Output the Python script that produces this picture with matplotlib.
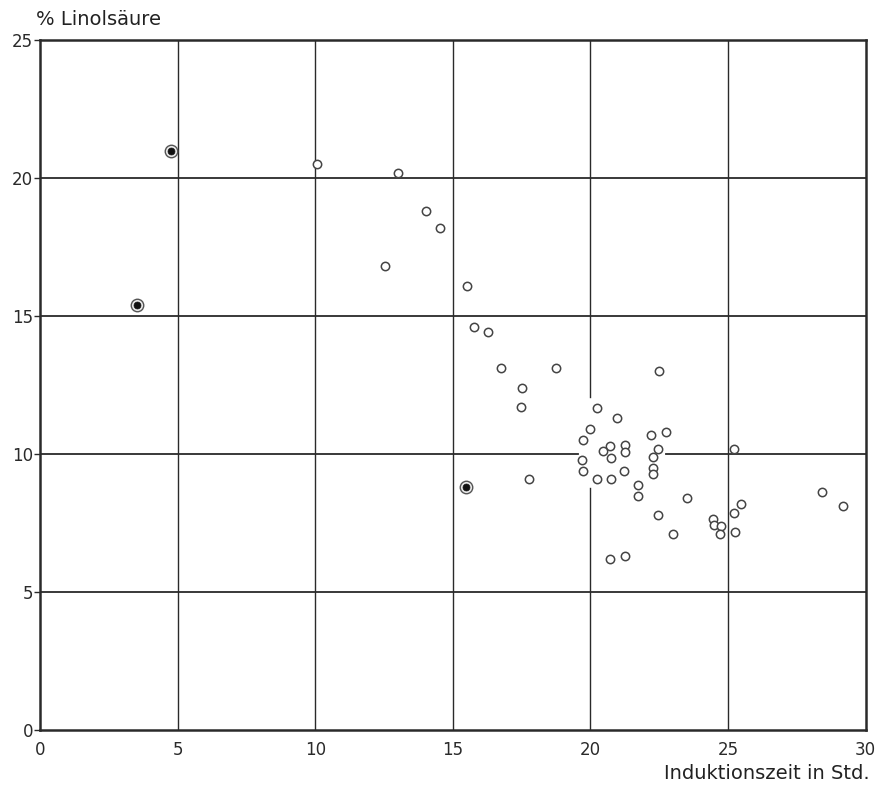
import matplotlib
matplotlib.use("Agg")
import matplotlib.pyplot as plt
import numpy as np

plt.rcParams['font.family'] = ['Liberation Sans Narrow', 'DejaVu Sans']

# open circles: Induktionszeit (h) vs. % Linolsaeure
open_x = [10.06, 13.0, 14.01, 14.52, 12.52,
          15.51, 15.76, 16.27, 16.76, 18.74, 22.50, 17.50, 17.49,
          20.25, 20.98, 19.98, 22.21, 22.73, 19.72, 20.72, 21.24,
          20.45, 21.24, 20.74, 22.46, 25.22, 22.26, 19.70, 19.71,
          21.22, 22.26, 22.27, 20.22, 20.74, 17.75, 21.73, 21.74,
          23.49, 22.46, 28.43, 29.17, 25.48, 25.23, 24.46, 24.47,
          24.75, 24.72, 25.26, 22.98, 20.72, 21.26]
open_y = [20.50, 20.18, 18.79, 18.20, 16.81,
          16.10, 14.59, 14.41, 13.10, 13.12, 13.01, 12.40, 11.70,
          11.68, 11.30, 10.91, 10.69, 10.80, 10.50, 10.29, 10.31,
          10.10, 10.08, 9.87, 10.18, 10.19, 9.89, 9.78, 9.38,
          9.39, 9.49, 9.28, 9.08, 9.11, 9.09, 8.88, 8.49,
          8.41, 7.79, 8.61, 8.12, 8.19, 7.86, 7.66, 7.44,
          7.39, 7.09, 7.19, 7.10, 6.20, 6.29]

# filled (ringed) points
filled_x = [4.77, 3.53, 15.48]
filled_y = [20.99, 15.39, 8.82]

x_ticks = [0, 5, 10, 15, 20, 25, 30]
y_ticks = [0, 5, 10, 15, 20, 25]

fig = plt.figure(figsize=(8.78, 7.85), dpi=100)
ax = fig.add_axes([0.0456, 0.070, 0.9404, 0.879])
ax.set_xlim(0, 30)
ax.set_ylim(0, 25)

line_col = '#2a2a2a'

# grid, with the gaps around the point cluster as in the original
for gx in x_ticks[1:-1]:
    if gx == 20:
        ax.plot([gx, gx], [0, 8.77], color=line_col, lw=1.0, zorder=1)
        ax.plot([gx, gx], [12.07, 25], color=line_col, lw=1.0, zorder=1)
    else:
        ax.axvline(gx, color=line_col, lw=1.0, zorder=1)
for gy in y_ticks[1:-1]:
    if gy == 10:
        ax.plot([0, 19.55], [gy, gy], color=line_col, lw=1.3, zorder=1)
        ax.plot([22.73, 30], [gy, gy], color=line_col, lw=1.3, zorder=1)
    else:
        ax.axhline(gy, color=line_col, lw=1.3, zorder=1)

ax.plot(open_x, open_y, linestyle='none', marker='o', ms=6.0,
        mfc='white', mec='#444444', mew=1.1, zorder=3)
ax.plot(filled_x, filled_y, linestyle='none', marker='o', ms=9.0,
        mfc='#e8e8e8', mec='#555555', mew=1.0, zorder=3)
ax.plot(filled_x, filled_y, linestyle='none', marker='o', ms=5.0,
        mfc='#111111', mec='#111111', mew=0.5, zorder=4)

for side in ax.spines.values():
    side.set_linewidth(1.8)
    side.set_color(line_col)

ax.set_xticks(x_ticks)
ax.set_yticks(y_ticks)
ax.tick_params(axis='both', direction='out', length=4, width=1.0,
               colors=line_col, labelsize=12, pad=1)
ax.tick_params(axis='x', length=0, pad=8)

fig.text(0.041, 0.963, '% Linolsäure', fontsize=14, color='#222222',
         ha='left', va='bottom')
fig.text(0.991, 0.003, 'Induktionszeit in Std.', fontsize=14, color='#222222',
         ha='right', va='bottom')

fig.savefig('out.png', dpi=100)
